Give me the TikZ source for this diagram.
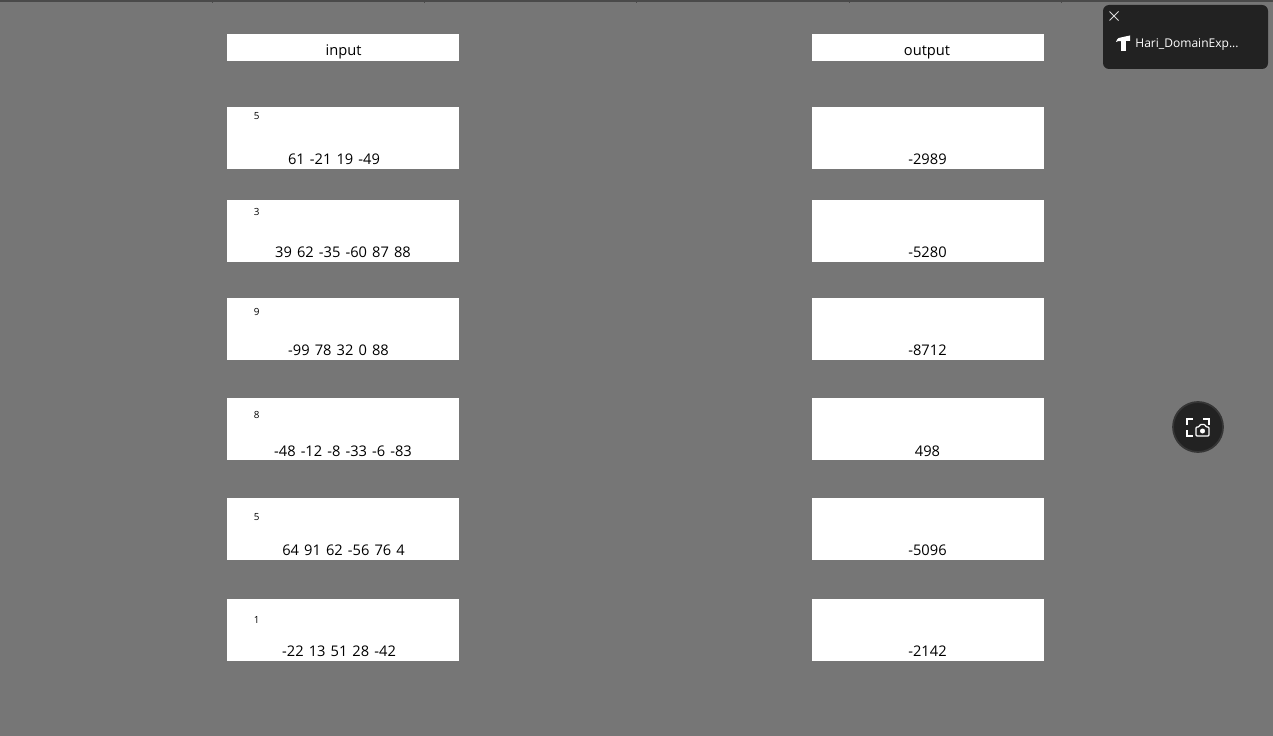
\documentclass[tikz,border=0pt]{standalone}
\usepackage{fontspec}
\setmainfont{Open Sans}
\definecolor{backdrop}{HTML}{767676}
\definecolor{topbar}{HTML}{4A4A4A}
\definecolor{toast}{HTML}{222222}
\tikzset{
  box/.style={fill=white,inner sep=0pt,minimum width=4.64cm},
  value/.style={font=\fontsize{8.35}{9}\selectfont,execute at begin node={\spaceskip 2.9pt\relax},inner sep=0pt,anchor=base,text=black},
  count/.style={font=\fontsize{5.6}{6}\selectfont,inner sep=0pt,text=black},
  icon/.style={white,line width=0.7pt}
}

\begin{document}
\begin{tikzpicture}[x=0.02cm,y=-0.02cm]

   % Background
   \fill[backdrop] (0,0) rectangle (1273,736);
   \useasboundingbox (0,0) rectangle (1273,736);
   \fill[topbar] (0,0) rectangle (1273,2);
   \foreach \x in {212,424,636,849,1061}
       \draw[topbar,line width=0.5pt] (\x,0) -- (\x,3);

   % Headers
   \node[box,minimum height=0.54cm] (input) at (343,47.5) {};
   \node[box,minimum height=0.54cm] (output) at (928,47.5) {};
   \node[value] (inputlabel) at (343.5,56) {input};
   \node[value] (outputlabel) at (927,56) {output};

   % Rows: top, count y, count, value x, value y, values, result
   \foreach \i/\top/\cy/\n/\vx/\vy/\vals/\res in {
       1/107/115/5/334/164.3/{61 -21 19 -49}/-2989,
       2/200/211/3/343/257.3/{39 62 -35 -60 87 88}/-5280,
       3/298/311/9/338.5/355.3/{-99 78 32 0 88}/-8712,
       4/398/414/8/343/456.3/{-48 -12 -8 -33 -6 -83}/498,
       5/498/516/5/343.5/555.3/{64 91 62 -56 76 4}/-5096,
       6/599/619/1/339/656.3/{-22 13 51 28 -42}/-2142}
   {
       \node[box,minimum height=1.24cm] (in\i) at (343,\top+31) {};
       \node[box,minimum height=1.24cm] (out\i) at (928,\top+31) {};
       \node[count] (n\i) at (256.7,\cy+0.8) {\n};
       \node[value] (vals\i) at (\vx,\vy) {\vals};
       \node[value] (res\i) at (927.5,\vy) {\res};
   }

   % Notification
   \fill[toast,rounded corners=0.12cm] (1103,5) rectangle (1268,69);
   \draw[white!85!black,line width=0.45pt] (1109.5,11.5) -- (1118.5,20.5);
   \draw[white!85!black,line width=0.45pt] (1118.5,11.5) -- (1109.5,20.5);
   \fill[white] (1116,42) .. controls (1117,38) and (1120,37) .. (1123,37) -- (1130,35.5) -- (1130,41) -- (1121,41) .. controls (1119,41) and (1117,41) .. (1116,42) -- cycle;
   \fill[white] (1121,41) rectangle (1126,51);
   \node[font=\fontsize{6.85}{8}\selectfont,text=white,inner sep=0pt,anchor=base west] (toastlabel) at (1135,47.5) {Hari\_DomainExp...};

   % Camera button
   \fill[toast,draw=black!55!backdrop,line width=1pt] (1198,427) circle (25);
   \draw[icon] (1187,425) -- (1187,419) -- (1193,419);
   \draw[icon] (1203,419) -- (1209,419) -- (1209,425);
   \draw[icon] (1187,430) -- (1187,436) -- (1193,436);
   \draw[icon,rounded corners=0.02cm] (1196,436) -- (1196,427) -- (1199,427) -- (1200,424.5) -- (1205,424.5) -- (1206,427) -- (1209,427) -- (1209,436) -- cycle;
   \fill[white] (1202.5,431) circle (2.5);

\end{tikzpicture}
\end{document}
